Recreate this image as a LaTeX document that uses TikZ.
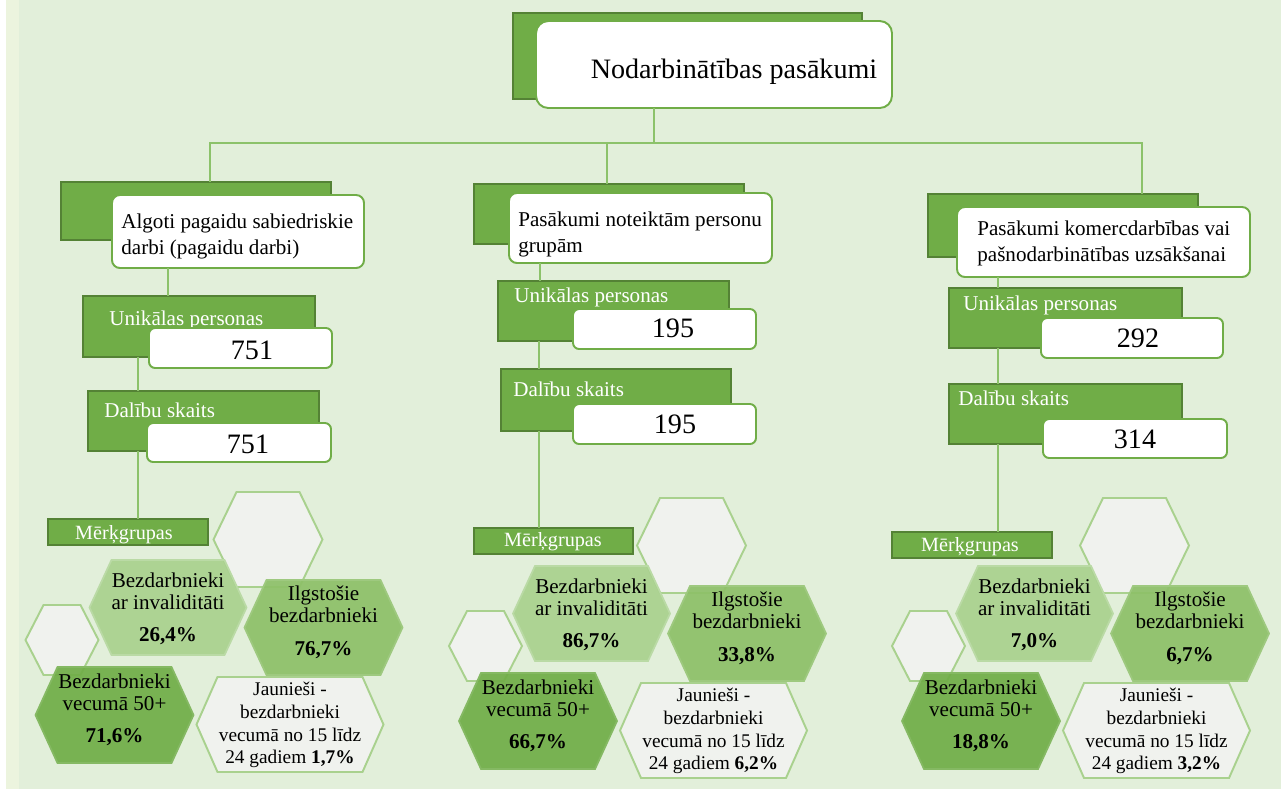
\documentclass[tikz,border=0pt]{standalone}
\usepackage{fontspec}
\setmainfont{Liberation Serif}
\usepackage{tikz}
\definecolor{bgGreen}{RGB}{226,239,218}
\definecolor{stripGreen}{RGB}{236,244,222}
\definecolor{boxGreen}{RGB}{112,173,71}
\definecolor{boxBorder}{RGB}{84,130,53}
\definecolor{lineGreen}{RGB}{140,194,106}
\definecolor{hexLight}{RGB}{169,209,142}
\definecolor{hexMid}{RGB}{141,192,104}
\definecolor{hexPale}{RGB}{240,242,238}
\tikzstyle{backBox}=[draw=boxBorder, fill=boxGreen, line width=0.8pt, inner sep=0pt, outer sep=0pt]
\tikzstyle{frontBox}=[draw=boxGreen, fill=white, line width=1.1pt, rounded corners=4.5pt, inner sep=0pt, outer sep=0pt]
\tikzstyle{numBox}=[frontBox, rounded corners=3.5pt]
\tikzstyle{link}=[draw=lineGreen, line width=0.6pt]
\tikzstyle{titleText}=[font=\fontsize{16}{19}\selectfont, inner sep=0pt]
\tikzstyle{grpText}=[font=\fontsize{12}{14.8}\selectfont, align=left, inner sep=0pt]
\tikzstyle{statText}=[font=\fontsize{12}{14}\selectfont, text=white, inner sep=0pt]
\tikzstyle{numText}=[font=\fontsize{16}{19}\selectfont, inner sep=0pt]
\tikzstyle{tagText}=[font=\fontsize{11.5}{14}\selectfont, text=white, inner sep=0pt]
\tikzstyle{hexText}=[font=\fontsize{12}{12.5}\selectfont, align=center, inner sep=0pt]
\tikzstyle{hexSmallText}=[font=\fontsize{11}{13}\selectfont, align=center, inner sep=0pt]
\tikzstyle{hexEmpty}=[fill=hexPale, draw=hexLight, line width=1.1pt]
\tikzstyle{hexA}=[fill=hexLight, draw=hexLight!80!white, line width=1pt, fill opacity=0.92]
\tikzstyle{hexB}=[fill=hexMid, draw=hexMid!85!white, line width=1pt, fill opacity=0.92]
\tikzstyle{hexC}=[fill=boxGreen, draw=boxGreen!85!white, line width=1pt, fill opacity=0.92]
\tikzset{wh/.style 2 args={minimum width={#1*0.02cm}, minimum height={#2*0.02cm}}}
\newcommand{\hexa}[3]{++({-#1/2},0) -- ++(#3,{-#2/2}) -- ++({#1-2*#3},0) -- ++(#3,{#2/2}) -- ++(-#3,{#2/2}) -- ++({-#1+2*#3},0) -- cycle}

\begin{document}
\begin{tikzpicture}[x=0.02cm, y=-0.02cm]
  \useasboundingbox (0,0) rectangle (1283,789);
  \fill[stripGreen] (6,0) rectangle (19,789);
  \fill[bgGreen] (19,0) rectangle (1281,789);

  % title
  \node[backBox, wh={349}{86}] (tback) at (687.5,56) {};
  \node[frontBox, rounded corners=7pt, wh={356}{87}] (tfront) at (714,64.5) {};
  \node[titleText, anchor=base] (title) at (734,78) {Nodarbinātības pasākumi};

  % left group
  \node[backBox, wh={270}{58}] (g1back) at (196,211) {};
  \node[frontBox, wh={252}{73}] (g1front) at (238,231.5) {};
  \node[grpText, anchor=base west] (g1text) at (121,254) {Algoti pagaidu sabiedriskie\\darbi (pagaidu darbi)};
  \node[backBox, wh={232}{61}] (u1) at (199,326.5) {};
  \node[statText, anchor=base west] (u1text) at (109,325) {Unikālas personas};
  \node[numBox, wh={183}{40}] (u1box) at (240.5,348) {};
  \node[numText, anchor=base] (u1num) at (252,359) {751};
  \node[backBox, wh={231}{60}] (d1) at (203.5,421) {};
  \node[statText, anchor=base west] (d1text) at (104,417) {Dalību skaits};
  \node[numBox, wh={184}{39}] (d1box) at (239,442.5) {};
  \node[numText, anchor=base] (d1num) at (248,453) {751};
  \node[backBox, wh={160}{26}] (m1) at (128,532) {};
  \node[tagText, anchor=base] (m1text) at (124,539) {Mērķgrupas};

  % middle group
  \node[backBox, wh={270}{60}] (g2back) at (609,214) {};
  \node[frontBox, wh={263}{70}] (g2front) at (640.5,228) {};
  \node[grpText, anchor=base west] (g2text) at (518,252) {Pasākumi noteiktām personu\\grupām};
  \node[backBox, wh={231}{60}] (u2) at (613.5,311) {};
  \node[statText, anchor=base west] (u2text) at (514,302) {Unikālas personas};
  \node[numBox, wh={183}{40}] (u2box) at (664.5,329) {};
  \node[numText, anchor=base] (u2num) at (673,337) {195};
  \node[backBox, wh={230}{62}] (d2) at (616,400) {};
  \node[statText, anchor=base west] (d2text) at (513,396) {Dalību skaits};
  \node[numBox, wh={183}{40}] (d2box) at (664.5,424) {};
  \node[numText, anchor=base] (d2num) at (675,433) {195};
  \node[backBox, wh={159}{26}] (m2) at (553.5,541) {};
  \node[tagText, anchor=base] (m2text) at (553,546) {Mērķgrupas};

  % right group
  \node[backBox, wh={270}{63}] (g3back) at (1063,225.5) {};
  \node[frontBox, wh={293}{70}] (g3front) at (1103.5,242) {};
  \node[grpText, anchor=base west] (g3text) at (977,261) {Pasākumi komercdarbības vai\\pašnodarbinātības uzsākšanai};
  \node[backBox, wh={233}{60}] (u3) at (1065.5,318) {};
  \node[statText, anchor=base west] (u3text) at (963,310) {Unikālas personas};
  \node[numBox, wh={182}{40}] (u3box) at (1132,338) {};
  \node[numText, anchor=base] (u3num) at (1138,347) {292};
  \node[backBox, wh={233}{60}] (d3) at (1065.5,414) {};
  \node[statText, anchor=base west] (d3text) at (958,405) {Dalību skaits};
  \node[numBox, wh={184}{39}] (d3box) at (1135,438.5) {};
  \node[numText, anchor=base] (d3num) at (1135,448) {314};
  \node[backBox, wh={160}{26}] (m3) at (972,545) {};
  \node[tagText, anchor=base] (m3text) at (970,551) {Mērķgrupas};

  % connectors
  \coordinate (tx) at (654,143);
  \coordinate (g1x) at (210,143);
  \coordinate (g2x) at (607,143);
  \coordinate (g3x) at (1142,143);
  \draw[link] (tfront.south -| tx) -- (tx);
  \draw[link] (g1back.north -| g1x) -- (g1x) -- (g3x) -- (g3back.north -| g3x);
  \draw[link] (g2x) -- (g2back.north -| g2x);
  \coordinate (c1a) at (168,0);
  \coordinate (c1b) at (138,0);
  \coordinate (c2a) at (540,0);
  \coordinate (c2b) at (539,0);
  \coordinate (c3) at (998,0);
  \draw[link] (g1front.south -| c1a) -- (u1.north -| c1a);
  \draw[link] (u1.south -| c1b) -- (d1.north -| c1b);
  \draw[link] (d1.south -| c1b) -- (m1.north -| c1b);
  \draw[link] (g2front.south -| c2a) -- (u2.north -| c2a);
  \draw[link] (u2.south -| c2b) -- (d2.north -| c2b);
  \draw[link] (d2.south -| c2b) -- (m2.north -| c2b);
  \draw[link] (g3front.south -| c3) -- (u3.north -| c3);
  \draw[link] (u3.south -| c3) -- (d3.north -| c3);
  \draw[link] (d3.south -| c3) -- (m3.north -| c3);

  % target groups
  \foreach \g/\gx/\gy/\pa/\pb/\pc/\pd in {1/-423.5/-6/{26,4}/{76,7}/{71,6}/{1,7},
      2/0/0/{86,7}/{33,8}/{66,7}/{6,2}, 3/443/0/{7,0}/{6,7}/{18,8}/{3,2}}{
    \begin{scope}[shift={(\gx,\gy)}]
      \draw[hexEmpty] (691.5,545.5) \hexa{109}{95}{23};
      \draw[hexEmpty] (485.5,646) \hexa{73}{70}{18};
      \draw[hexA] (591.5,613.5) \hexa{157}{95}{22};
      \draw[hexB] (747,633.5) \hexa{158}{95}{22};
      \draw[hexC] (538,721) \hexa{158}{96}{22};
      \draw[hexEmpty] (713.5,730.5) \hexa{187}{95}{21};
      \node[hexText] (inv\g) at (591.5,615) {Bezdarbnieki\\ar invaliditāti\\[6pt]\textbf{\pa\%}};
      \node[hexText] (ilg\g) at (747,628.5) {Ilgstošie\\bezdarbnieki\\[6pt]\textbf{\pb\%}};
      \node[hexText] (old\g) at (538,716) {Bezdarbnieki\\vecumā 50+\\[6pt]\textbf{\pc\%}};
      \node[hexSmallText] (young\g) at (713.5,731) {Jaunieši -\\bezdarbnieki\\vecumā no 15 līdz\\24 gadiem \textbf{\pd\%}};
    \end{scope}
  }
\end{tikzpicture}
\end{document}
